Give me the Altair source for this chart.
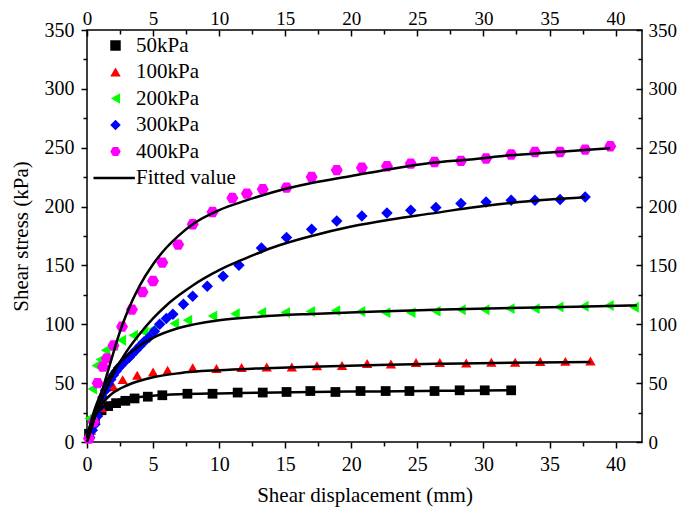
import altair as alt
import pandas as pd

# ---------------- data ----------------
names = ["50kPa", "100kPa", "200kPa", "300kPa", "400kPa"]
legend_names = names + ["Fitted value"]
colors = ["#000000", "#FF0000", "#00FF00", "#0000FF", "#FF00FF", "#000000"]
hexagon = "M-1,0L-0.5,-0.866L0.5,-0.866L1,0L0.5,0.866L-0.5,0.866Z"
fit_swatch = "M-4.2,-0.24L3.7,-0.24L3.7,0.24L-4.2,0.24Z"
shapes = ["square", "triangle-up", "triangle-left", "diamond", hexagon, fit_swatch]
marker_sizes = [95, 144, 144, 121, 144]

x50 = [0.15, 0.6, 1.1, 1.6, 2.2, 2.9, 3.6, 4.6, 5.7, 7.6, 9.5, 11.4, 13.3, 15.1, 16.9,
       18.8, 20.7, 22.6, 24.4, 26.3, 28.2, 30.1, 32.1]
y50 = [7, 19, 27, 30.5, 33, 35, 37, 38.5, 39.7, 41, 41, 42, 42, 42.5, 43.3,
       42.5, 43.3, 43.3, 43.3, 43.3, 43.9, 43.9, 43.9]

x100 = [0.3, 0.6, 1.1, 2.0, 2.7, 3.8, 5.0, 6.1, 8.0, 9.8, 11.7, 13.6, 15.5, 17.4, 19.3,
        21.2, 23.0, 24.9, 26.7, 28.7, 30.6, 32.4, 34.3, 36.2, 38.1]
y100 = [10, 20, 29, 47, 53, 56.7, 59.5, 61, 63, 62.5, 63.2, 63.7, 63.7, 64.8, 65,
        66.6, 66.3, 67.5, 67.5, 67.2, 67.8, 67.8, 68.3, 68.5, 68.8]

x200 = [0.15, 0.4, 0.7, 1.0, 1.4, 2.0, 2.6, 3.5, 4.3, 5.0, 6.6, 7.6, 9.5, 11.2, 13.2,
        15.0, 16.9, 18.8, 20.7, 22.6, 24.5, 26.4, 28.3, 30.1, 32.0, 33.9, 35.7, 37.6,
        39.5, 41.4]
y200 = [20, 45, 65, 70, 78, 82, 86.4, 90.7, 93.5, 96, 100.6, 103.4, 107, 109, 110,
        110, 110.8, 111.6, 110.8, 109.9, 109.9, 111, 112.4, 112.4, 113.3, 113.3, 114.7,
        115.3, 116, 114.5]

x300 = [0.2, 0.4, 0.6, 0.8, 1.0, 1.2, 1.4, 1.6, 1.8, 2.0, 2.2, 2.4, 2.6, 2.8, 3.0, 3.2,
        3.4, 3.7, 4.0, 4.3, 4.7, 5.1, 5.5, 6.0, 6.5, 7.3, 8.0, 9.1, 10.3, 11.5, 13.2,
        15.1, 17.0, 18.9, 20.8, 22.7, 24.5, 26.4, 28.3, 30.2, 32.1, 33.9, 35.8, 37.7]
y300 = [4, 10, 15, 22, 30, 38, 44, 49, 53, 57, 60, 63, 65.5, 68, 70, 72,
        74.5, 78, 81.5, 85, 89, 94, 100, 105, 108.5, 117, 123.8, 132.3, 140.8, 150.1, 164.8,
        173.7, 180.7, 187.8, 192, 194.6, 196.9, 199.2, 202.6, 203.9, 205.4, 205.4, 206, 208.2]

x400 = [0.15, 0.5, 0.8, 1.2, 1.5, 2.0, 2.65, 3.4, 4.2, 5.0, 5.7, 6.9, 8.0, 9.5, 11.0,
        12.1, 13.3, 15.1, 17.0, 18.9, 20.8, 22.7, 24.5, 26.3, 28.3, 30.2, 32.1, 33.9,
        35.8, 37.7, 39.6]
y400 = [3, 17, 50, 64, 71, 82, 98, 112.5, 127.4, 136.8, 152.4, 167.7, 185, 195.4, 207.3,
        211, 214.7, 216.1, 225.1, 231, 233, 234.2, 236.5, 237.9, 238.8, 240.8, 244.2, 246.4,
        246.4, 248.4, 251.2]

# fitted curves
fx50 = [0, 0.25, 0.5, 0.75, 1, 1.5, 2, 3, 4, 5, 7, 10, 13, 17, 22, 27, 32.1]
fy50 = [4, 14, 20, 25, 28, 32, 34.5, 37, 38.3, 39.3, 40.5, 41.3, 41.9, 42.5, 43, 43.5, 43.9]

fx100 = [0, 0.25, 0.5, 0.75, 1, 1.5, 2, 3, 4, 5, 7, 10, 13, 17, 22, 27, 32, 38.1]
fy100 = [5, 12, 19, 25, 30, 37, 42, 48, 52, 55, 58.5, 61, 62.5, 64, 65.5, 66.5, 67.3, 68]

fx200 = [0, 0.25, 0.5, 0.75, 1, 1.5, 2, 3, 4, 5, 7, 10, 13, 17, 22, 27, 32, 37, 41.6]
fy200 = [5, 15, 25, 33, 40, 52, 61, 73, 82, 88.5, 97, 103.5, 106.5, 108.8, 110.8, 112.5,
         113.8, 115, 116]

fx300 = [0, 0.25, 0.5, 0.75, 1, 1.5, 2, 2.5, 3, 4, 5, 6, 7, 8, 10, 12, 14, 17, 20, 23,
         26, 29, 32, 35, 37.7]
fy300 = [3, 10, 18, 26, 33, 46, 58, 68, 77, 92, 105, 116, 125, 133, 146, 156, 165, 175,
         183, 189, 194, 199, 203, 206, 208]

fx400 = [0, 0.25, 0.5, 0.75, 1, 1.5, 2, 2.5, 3, 4, 5, 6, 7, 8, 10, 12, 14, 17, 20, 23,
         26, 29, 32, 35, 39.6]
fy400 = [0, 8, 18, 28, 38, 57, 76, 94, 109, 133, 151, 165, 176, 185, 197, 205, 212, 220,
         226, 232, 237, 240, 243.5, 246, 249.5]

x_tick_values = [0, 2.5, 5, 7.5, 10, 12.5, 15, 17.5, 20, 22.5, 25, 27.5, 30, 32.5, 35,
                 37.5, 40]
y_tick_values = [0, 25, 50, 75, 100, 125, 150, 175, 200, 225, 250, 275, 300, 325, 350]

# ---------------- tables ----------------
meas = [(x50, y50), (x100, y100), (x200, y200), (x300, y300), (x400, y400)]
fits = [(fx50, fy50), (fx100, fy100), (fx200, fy200), (fx300, fy300), (fx400, fy400)]
pts_rows, fit_rows = [], []
for n, (xs, ys) in zip(names, meas):
    pts_rows += [{"series": n, "x": a, "y": b} for a, b in zip(xs, ys)]
for n, (xs, ys) in zip(names, fits):
    fit_rows += [{"series": n, "x": a, "y": b} for a, b in zip(xs, ys)]
pts_df = pd.DataFrame(pts_rows)
fit_df = pd.DataFrame(fit_rows)

FONT = "Liberation Serif"
W, H = 555, 412
xscale = alt.Scale(domain=[0, 42], nice=False, zero=False)
yscale = alt.Scale(domain=[0, 350], nice=False, zero=False)


def make_axis(orient, values, major, inward, pad, fsize, **kw):
    dash_minor = [0, 2, 4, 10] if inward else [4, 10]
    return alt.Axis(
        orient=orient, values=values, domain=False,
        labelExpr=f"datum.value % {major} === 0 ? datum.label : ''",
        labelOverlap=False, labelFlush=False,
        labelFont=FONT, labelFontSize=fsize, labelColor="black", labelPadding=pad,
        tickSize=6, tickWidth=1.5, tickColor="black",
        tickDash={"condition": {"test": f"datum.value % {major} !== 0", "value": dash_minor},
                  "value": []},
        offset=-6 if inward else 0, grid=False,
        titleFont=FONT, titleFontSize=21, titleFontWeight="normal", titleColor="black",
        **kw,
    )


top_axis = make_axis("top", x_tick_values, 5, True, 2, 19, title=None)
right_axis = make_axis("right", y_tick_values, 50, True, 6, 19, title=None)
bottom_axis = make_axis("bottom", x_tick_values, 5, False, 6, 20,
                        title="Shear displacement (mm)", titleX=W / 2, titleY=53,
                        titleBaseline="middle", titleAlign="center")
left_axis = make_axis("left", y_tick_values, 50, False, 7, 20,
                      title="Shear stress (kPa)", titleX=-66, titleY=H / 2,
                      titleBaseline="middle", titleAlign="center", titleAngle=-90)

legend = alt.Legend(
    title=None, orient="none", legendX=18, legendY=5,
    labelFont=FONT, labelFontSize=21, labelColor="black", labelOffset=10,
    symbolSize=110, symbolStrokeWidth=0, symbolOpacity=1, rowPadding=4.5,
)

points = alt.Chart(pts_df).mark_point(filled=True, opacity=1).encode(
    x=alt.X("x:Q", scale=xscale, axis=top_axis),
    y=alt.Y("y:Q", scale=yscale, axis=right_axis),
    color=alt.Color("series:N", scale=alt.Scale(domain=legend_names, range=colors),
                    legend=legend),
    shape=alt.Shape("series:N", scale=alt.Scale(domain=legend_names, range=shapes),
                    legend=legend),
    size=alt.Size("series:N", scale=alt.Scale(domain=names, range=marker_sizes),
                  legend=None),
)

lines = alt.Chart(fit_df).mark_line(color="black", strokeWidth=2.5,
                                    interpolate="monotone").encode(
    x=alt.X("x:Q", scale=xscale, axis=bottom_axis),
    y=alt.Y("y:Q", scale=yscale, axis=left_axis),
    detail="series:N",
)

chart = (
    alt.layer(points, lines)
    .resolve_axis(x="independent", y="independent")
    .properties(width=W, height=H, autosize=alt.AutoSizeParams(type="none"),
                padding={"left": 79, "top": 22, "right": 35, "bottom": 65},
                background="white")
    .configure_view(stroke="black", strokeWidth=1.5)
)

chart.save("out.html", embed_options={"renderer": "svg", "actions": False})
